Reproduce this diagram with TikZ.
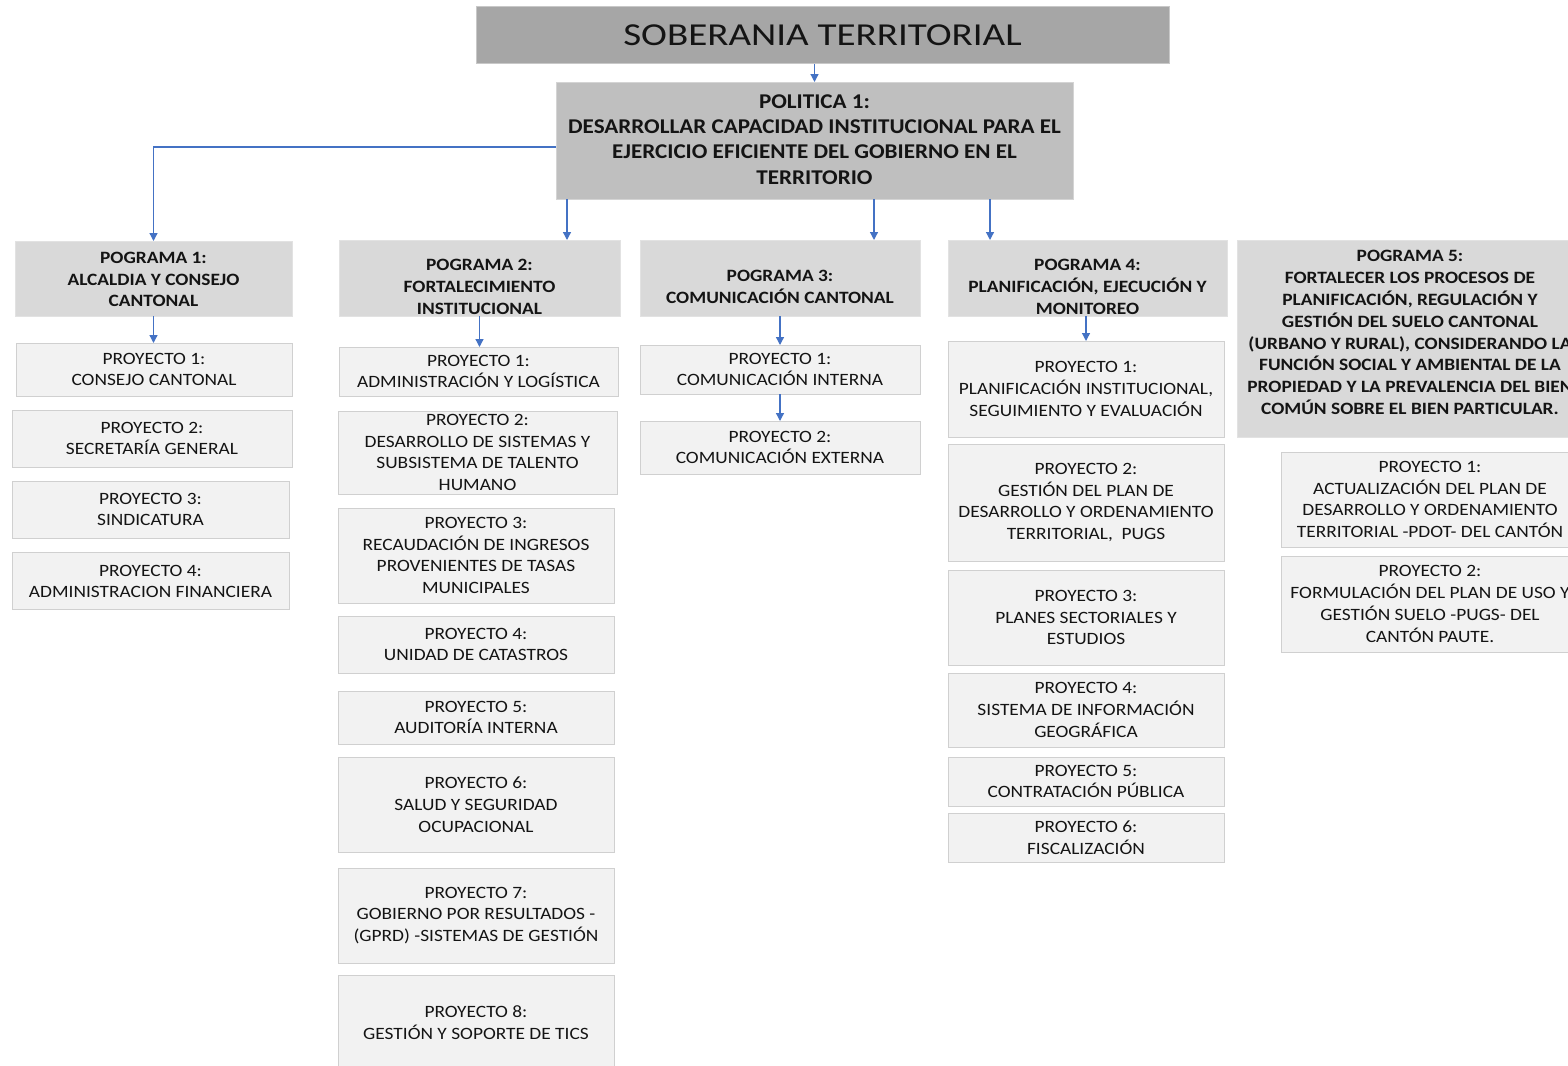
\documentclass[tikz,border=0pt]{standalone}
\usepackage{fontspec}
\setmainfont{Carlito}[FakeStretch=1.12]
\newfontfamily\titlefont{Carlito}[FakeStretch=1.22]
\newfontfamily\polfont{Carlito}[FakeStretch=1.10]
\usetikzlibrary{arrows.meta,calc}
\definecolor{ttlfill}{HTML}{A6A6A6}
\definecolor{ttldraw}{HTML}{C8C8C8}
\definecolor{polfill}{HTML}{BFBFBF}
\definecolor{poldraw}{HTML}{D4D4D4}
\definecolor{prgfill}{HTML}{D9D9D9}
\definecolor{prgdraw}{HTML}{E2E2E2}
\definecolor{prjfill}{HTML}{F2F2F2}
\definecolor{prjdraw}{HTML}{D0D0D0}
\definecolor{arrblue}{HTML}{4472C4}
\definecolor{ink}{HTML}{141414}
\newcommand\bx[9]{%
  \node[#6, minimum width={(#4-#2)*1pt}, minimum height={(#5-#3)*1pt}, anchor=north west] (#1) at (#2,#3) {};
  \node[#7] (#1t) at ($(#1.center)+(0,#8)$) {#9};}
\begin{document}
\begin{tikzpicture}[x=1pt,y=-1pt,
  every node/.style={inner sep=0pt, outer sep=0pt},
  ttl/.style={fill=ttlfill, draw=ttldraw, line width=1pt},
  pol/.style={fill=polfill, draw=poldraw, line width=1pt},
  prg/.style={fill=prgfill, draw=prgdraw, line width=1pt},
  prj/.style={fill=prjfill, draw=prjdraw, line width=1pt},
  txt/.style={align=center, text=ink, font=\fontsize{17.3}{21.8}\selectfont},
  btxt/.style={align=center, text=ink, font=\fontsize{17.3}{21.8}\selectfont\bfseries},
  ptxt/.style={align=center, text=ink, font=\polfont\fontsize{21}{25.3}\selectfont\bfseries},
  ttxt/.style={align=center, text=ink, font=\titlefont\fontsize{32}{38}\selectfont},
  arr/.style={draw=arrblue, line width=1.3pt, -{Triangle[width=8pt,length=8pt]}}
]
\useasboundingbox (0,0) rectangle (1568,1065);
\fill[white] (0,0) rectangle (1568,1065);
\clip (0,0) rectangle (1568,1065);

% title and policy
\bx{ttl}{476}{7}{1169}{64}{ttl}{ttxt}{0}{SOBERANIA TERRITORIAL}
\bx{pol}{556}{82}{1073}{199}{pol}{ptxt}{-1}{POLITICA 1:\\DESARROLLAR CAPACIDAD INSTITUCIONAL PARA EL\\EJERCICIO EFICIENTE DEL GOBIERNO EN EL\\TERRITORIO}

% programs
\bx{p1}{15}{241}{292}{316}{prg}{btxt}{1}{POGRAMA 1:\\ALCALDIA Y CONSEJO\\CANTONAL}
\bx{p2}{339}{240}{620}{316}{prg}{btxt}{9}{POGRAMA 2:\\FORTALECIMIENTO\\INSTITUCIONAL}
\bx{p3}{640}{240}{920}{316}{prg}{btxt}{9}{POGRAMA 3:\\COMUNICACIÓN CANTONAL}
\bx{p4}{948}{240}{1227}{316}{prg}{btxt}{9}{POGRAMA 4:\\PLANIFICACIÓN, EJECUCIÓN Y\\MONITOREO}
\bx{p5}{1237}{240}{1583}{437}{prg}{btxt}{-6}{POGRAMA 5:\\FORTALECER LOS PROCESOS DE\\PLANIFICACIÓN, REGULACIÓN Y\\GESTIÓN DEL SUELO CANTONAL\\(URBANO Y RURAL), CONSIDERANDO LA\\FUNCIÓN SOCIAL Y AMBIENTAL DE LA\\PROPIEDAD Y LA PREVALENCIA DEL BIEN\\COMÚN SOBRE EL BIEN PARTICULAR.}

% column 1
\bx{c1a}{16}{343}{292}{396}{prj}{txt}{0}{PROYECTO 1:\\CONSEJO CANTONAL}
\bx{c1b}{12}{410}{292}{467}{prj}{txt}{0}{PROYECTO 2:\\SECRETARÍA GENERAL}
\bx{c1c}{12}{481}{289}{538}{prj}{txt}{0}{PROYECTO 3:\\SINDICATURA}
\bx{c1d}{12}{552}{289}{609}{prj}{txt}{1}{PROYECTO 4:\\ADMINISTRACION FINANCIERA}

% column 2
\bx{c2a}{339}{347}{618}{396}{prj}{txt}{0}{PROYECTO 1:\\ADMINISTRACIÓN Y LOGÍSTICA}
\bx{c2b}{338}{411}{617}{494}{prj}{txt}{0}{PROYECTO 2:\\DESARROLLO DE SISTEMAS Y\\SUBSISTEMA DE TALENTO\\HUMANO}
\bx{c2c}{338}{508}{614}{603}{prj}{txt}{0}{PROYECTO 3:\\RECAUDACIÓN DE INGRESOS\\PROVENIENTES DE TASAS\\MUNICIPALES}
\bx{c2d}{338}{616}{614}{673}{prj}{txt}{0}{PROYECTO 4:\\UNIDAD DE CATASTROS}
\bx{c2e}{338}{691}{614}{744}{prj}{txt}{0}{PROYECTO 5:\\AUDITORÍA INTERNA}
\bx{c2f}{338}{757}{614}{852}{prj}{txt}{0}{PROYECTO 6:\\SALUD Y SEGURIDAD\\OCUPACIONAL}
\bx{c2g}{338}{868}{614}{963}{prj}{txt}{0}{PROYECTO 7:\\GOBIERNO POR RESULTADOS -\\(GPRD) -SISTEMAS DE GESTIÓN}
\bx{c2h}{338}{975}{614}{1071}{prj}{txt}{0}{PROYECTO 8:\\GESTIÓN Y SOPORTE DE TICS}

% column 3
\bx{c3a}{640}{345}{920}{394}{prj}{txt}{0}{PROYECTO 1:\\COMUNICACIÓN INTERNA}
\bx{c3b}{640}{421}{920}{474}{prj}{txt}{0}{PROYECTO 2:\\COMUNICACIÓN EXTERNA}

% column 4
\bx{c4a}{948}{341}{1224}{437}{prj}{txt}{0}{PROYECTO 1:\\PLANIFICACIÓN INSTITUCIONAL,\\SEGUIMIENTO Y EVALUACIÓN}
\bx{c4b}{948}{444}{1224}{561}{prj}{txt}{0}{PROYECTO 2:\\GESTIÓN DEL PLAN DE\\DESARROLLO Y ORDENAMIENTO\\TERRITORIAL,\enspace PUGS}
\bx{c4c}{948}{570}{1224}{665}{prj}{txt}{0}{PROYECTO 3:\\PLANES SECTORIALES Y\\ESTUDIOS}
\bx{c4d}{948}{673}{1224}{747}{prj}{txt}{0}{PROYECTO 4:\\SISTEMA DE INFORMACIÓN\\GEOGRÁFICA}
\bx{c4e}{948}{757}{1224}{806}{prj}{txt}{0}{PROYECTO 5:\\CONTRATACIÓN PÚBLICA}
\bx{c4f}{948}{813}{1224}{862}{prj}{txt}{0}{PROYECTO 6:\\FISCALIZACIÓN}

% column 5
\bx{c5a}{1281}{452}{1579}{547}{prj}{txt}{0}{PROYECTO 1:\\ACTUALIZACIÓN DEL PLAN DE\\DESARROLLO Y ORDENAMIENTO\\TERRITORIAL -PDOT- DEL CANTÓN}
\bx{c5b}{1281}{556}{1579}{652}{prj}{txt}{0}{PROYECTO 2:\\FORMULACIÓN DEL PLAN DE USO Y\\GESTIÓN SUELO -PUGS- DEL\\CANTÓN PAUTE.}

% connectors
\draw[arr] (pol.north |- ttl.south) -- (pol.north);
\draw[arr] ([yshift=-6.5pt]pol.west) -| (p1.north);
\draw[arr] ([xshift=11pt]pol.south west) -- ([xshift=11pt]pol.south west |- p2.north);
\draw[arr] ([xshift=318pt]pol.south west) -- ([xshift=318pt]pol.south west |- p3.north);
\draw[arr] ([xshift=434pt]pol.south west) -- ([xshift=434pt]pol.south west |- p4.north);
\draw[arr] (p1.south) -- (p1.south |- c1a.north);
\draw[arr] (p2.south) -- (p2.south |- c2a.north);
\draw[arr] (p3.south) -- (p3.south |- c3a.north);
\draw[arr] (c3a.south) -- (c3a.south |- c3b.north);
\draw[arr] (c4a.north |- p4.south) -- (c4a.north);
\end{tikzpicture}
\end{document}
